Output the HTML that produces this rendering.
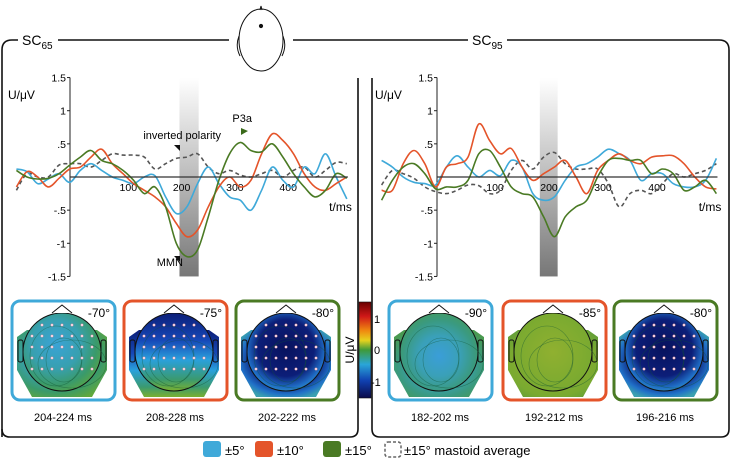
<!DOCTYPE html>
<html><head><meta charset="utf-8"><style>
body{margin:0;background:#fff;width:731px;height:465px;overflow:hidden}
svg{display:block;font-family:"Liberation Sans",sans-serif}
</style></head><body>
<svg id="fig" width="731" height="465" viewBox="0 0 731 465">
<defs>
<linearGradient id="gbar" x1="0" y1="0" x2="0" y2="1"><stop offset="0" stop-color="#fff"/><stop offset="1" stop-color="#777"/></linearGradient>
<linearGradient id="cbar" x1="0" y1="0" x2="0" y2="1">
<stop offset="0" stop-color="#6a0000"/><stop offset="0.15" stop-color="#d01818"/><stop offset="0.3" stop-color="#f08a10"/><stop offset="0.4" stop-color="#e6d21e"/><stop offset="0.5" stop-color="#3f9a3a"/><stop offset="0.65" stop-color="#2aa6d8"/><stop offset="0.82" stop-color="#1040b0"/><stop offset="1" stop-color="#0a0a4a"/></linearGradient>
<radialGradient id="m1" cx="0.42" cy="0.4" r="0.7"><stop offset="0" stop-color="#3aa3d6"/><stop offset="0.45" stop-color="#38a0b0"/><stop offset="0.75" stop-color="#3a9a6a"/><stop offset="1" stop-color="#62a83a"/></radialGradient>
<linearGradient id="m2" x1="0" y1="0" x2="0" y2="1"><stop offset="0" stop-color="#0c1e78"/><stop offset="0.35" stop-color="#1648b8"/><stop offset="0.6" stop-color="#2aa0dc"/><stop offset="0.85" stop-color="#3a9a70"/><stop offset="1" stop-color="#7ab030"/></linearGradient>
<radialGradient id="m3" cx="0.5" cy="0.45" r="0.6"><stop offset="0" stop-color="#08125e"/><stop offset="0.6" stop-color="#0c1e78"/><stop offset="0.85" stop-color="#2070c8"/><stop offset="1" stop-color="#3aa0b0"/></radialGradient>
<radialGradient id="m4" cx="0.5" cy="0.55" r="0.65"><stop offset="0" stop-color="#3a9ed8"/><stop offset="0.4" stop-color="#3aa0b8"/><stop offset="0.7" stop-color="#3a9a80"/><stop offset="1" stop-color="#4a9a50"/></radialGradient>
<radialGradient id="m5" cx="0.5" cy="0.5" r="0.7"><stop offset="0" stop-color="#90b030"/><stop offset="0.7" stop-color="#7aaa30"/><stop offset="1" stop-color="#5a9a3a"/></radialGradient>
</defs>

<g fill="none" stroke="#111" stroke-width="1.6">
<path d="M2,437 L2,50 Q2,40 12,40 L18,40 M58,40 L229,40"/>
<path d="M358,78 L358,429 Q358,437 350,437 L10,437 Q2,437 2,429"/>
<path d="M293,40 L468,40 M507,40 L719,40 Q729,40 729,50 L729,429 Q729,437 721,437 L380,437 Q372,437 372,429 L372,78"/>
</g>
<text x="22" y="45" font-size="14">SC<tspan font-size="10" dy="4">65</tspan></text>
<text x="472" y="45" font-size="14">SC<tspan font-size="10" dy="4">95</tspan></text>
<g fill="none" stroke="#111" stroke-width="1">
<path d="M239,36 Q235,46 240,56 M283,36 Q287,46 282,56"/>
<ellipse cx="261" cy="40" rx="22" ry="31" fill="#fff"/>
<path d="M260,10 L261,6 L262,10"/>
<circle cx="261" cy="26" r="1.6" fill="#111"/>
</g>

<g id="chartL"></g>
<g id="chartR"></g>
<g id="maps"></g>

<rect x="359" y="302" width="12" height="96" fill="url(#cbar)" stroke="#111" stroke-width="0.6"/>
<g font-size="11">
<text x="374" y="323">1</text><text x="374" y="354">0</text><text x="371" y="386">-1</text>
</g>
<text transform="translate(354,350) rotate(-90)" font-size="12" text-anchor="middle">U/μV</text>

<g font-size="13">
<g><rect x="203" y="441" width="18" height="16" rx="3" fill="#3fa9d9"/><text x="225" y="455">±5°</text></g>
<g><rect x="255" y="441" width="18" height="16" rx="3" fill="#e4542a"/><text x="277" y="455">±10°</text></g>
<g><rect x="323" y="441" width="18" height="16" rx="3" fill="#4a7a24"/><text x="345" y="455">±15°</text></g>
<g><rect x="385" y="442" width="16" height="15" rx="3" fill="none" stroke="#666" stroke-width="1.5" stroke-dasharray="3,2"/><text x="404" y="455">±15° mastoid average</text></g>
</g>
</svg>
<script>
const times=[-110,-90,-70,-50,-30,-10,10,30,50,70,90,110,130,150,170,190,210,230,250,270,290,310,330,350,370,390,410,430,450,470,490,510];
const yTicks=[1.5,1,0.5,-0.5,-1,-1.5];
const yTickLabels=["1.5","1",".5","-.5","-1","-1.5"];
const xTicks=[100,200,300,400];
const L_blue=[0.12,0.08,-0.1,-0.03,0.05,-0.08,0.1,0.2,0.1,0.0,-0.05,-0.1,0.0,0.02,-0.3,-0.55,-0.45,-0.1,0.15,-0.1,-0.3,-0.35,-0.5,-0.2,0.15,-0.05,-0.15,0.15,0.05,0.35,0.0,-0.33];
const L_orange=[-0.15,0.08,0.0,-0.15,-0.02,0.12,0.15,0.3,0.42,0.2,0.05,-0.1,-0.2,-0.3,-0.45,-0.7,-0.9,-0.8,-0.45,-0.15,0.0,-0.15,-0.05,0.35,0.65,0.55,0.35,0.05,-0.15,-0.2,-0.1,0.0];
const L_green=[0.1,0.0,-0.03,-0.02,0.05,0.18,0.3,0.4,0.25,0.2,0.1,-0.05,-0.25,-0.15,-0.45,-1.0,-1.2,-1.1,-0.6,-0.05,0.35,0.52,0.4,0.38,0.5,0.3,0.05,-0.15,-0.3,-0.2,0.05,-0.02];
const L_mastoid=[-0.2,0.05,0.0,0.0,0.18,0.2,0.2,0.15,0.25,0.35,0.33,0.33,0.3,0.12,0.2,0.28,0.3,0.35,0.15,0.05,0.1,0.03,0.0,0.05,0.1,0.0,0.1,0.15,0.0,0.1,0.22,0.2];
const R_blue=[0.25,0.15,0.0,-0.08,-0.1,-0.12,0.15,0.32,0.15,0.0,0.1,0.02,0.25,0.15,-0.25,-0.35,-0.3,-0.05,0.15,0.2,0.3,0.42,0.35,0.25,-0.05,0.05,0.05,-0.1,-0.15,-0.15,-0.05,0.28];
const R_orange=[-0.2,-0.2,0.2,0.4,0.2,-0.15,0.15,0.2,0.3,0.8,0.55,0.35,0.43,0.15,-0.05,0.05,0.15,0.25,0.0,-0.25,0.1,0.25,0.35,0.25,0.2,0.3,0.32,0.32,0.2,0.0,-0.15,-0.18];
const R_green=[-0.35,-0.05,0.15,0.2,0.05,-0.18,-0.15,-0.15,-0.05,0.35,0.4,0.15,-0.15,-0.25,-0.3,-0.6,-0.9,-0.6,-0.45,-0.35,0.0,0.25,0.28,0.25,0.25,0.05,0.12,0.05,-0.2,-0.15,-0.05,-0.25];
const R_mastoid=[-0.12,0.1,0.05,-0.02,-0.15,-0.22,-0.25,-0.2,-0.12,-0.13,-0.25,-0.2,0.1,0.25,0.12,0.3,0.37,0.2,0.12,0.12,0.12,-0.1,-0.45,-0.25,-0.2,-0.25,-0.1,0.05,0.0,0.05,0.1,0.2];
const NS='http://www.w3.org/2000/svg';
function mk(tag,attrs,parent){const e=document.createElementNS(NS,tag);for(const k in attrs)e.setAttribute(k,attrs[k]);parent.appendChild(e);return e;}
function smooth(pts){let d='M'+pts[0][0].toFixed(1)+','+pts[0][1].toFixed(1);for(let i=0;i<pts.length-1;i++){const p0=pts[i-1]||pts[i],p1=pts[i],p2=pts[i+1],p3=pts[i+2]||p2;const c1=[p1[0]+(p2[0]-p0[0])/6,p1[1]+(p2[1]-p0[1])/6],c2=[p2[0]-(p3[0]-p1[0])/6,p2[1]-(p3[1]-p1[1])/6];d+=` C${c1[0].toFixed(1)},${c1[1].toFixed(1)} ${c2[0].toFixed(1)},${c2[1].toFixed(1)} ${p2[0].toFixed(1)},${p2[1].toFixed(1)}`;}return d;}
function chart(g,x0,pxPerMs,axisX,bar,series){
  const X=t=>x0+t*pxPerMs, Y=v=>177-v*66.3;
  const b=mk('rect',{x:X(bar[0]),y:Y(1.5),width:X(bar[1])-X(bar[0]),height:Y(-1.5)-Y(1.5),fill:'url(#gbar)'},g);
  
  
  const ya=mk('line',{x1:axisX,x2:axisX,y1:Y(1.5),y2:Y(-1.5),stroke:'#222','stroke-width':1},g);
  
  
  yTicks.forEach((v,i)=>{mk('line',{x1:axisX-3,x2:axisX,y1:Y(v),y2:Y(v),stroke:'#222'},g);
    const t=mk('text',{x:axisX-4,y:Y(v)+4,'font-size':10.5,'text-anchor':'end'},g);t.textContent=yTickLabels[i];
    
    });
  xTicks.forEach(v=>{const t=mk('text',{x:X(v),y:Y(0)+14,'font-size':10.5,'text-anchor':'middle'},g);t.textContent=v;
    
    });
  const yl=mk('text',{x:axisX-62,y:Y(1.24)+4,'font-size':12},g);yl.textContent='U/μV';
  
  
  const xl=mk('text',{x:X(510)+5,y:Y(-0.45)+4,'font-size':12,'text-anchor':'end'},g);xl.textContent='t/ms';
  
  
  const styles=[['#3fa9d9',''],['#e4542a',''],['#4a7a24',''],['#555','4,3']];
  const names=['line-5deg','line-10deg','line-15deg','line-mastoid'];
  [3,0,1,2].forEach(i=>{const s=series[i];const p=mk('path',{d:smooth(times.map((t,j)=>[X(t),Y(s[j])])),fill:'none',stroke:styles[i][0],'stroke-width':1.6},g);
    if(styles[i][1])p.setAttribute('stroke-dasharray',styles[i][1]);
    
    });
  const xa=mk('line',{x1:axisX,x2:X(512),y1:Y(0),y2:Y(0),stroke:'#333','stroke-width':1.2},g);
  
  
}
const gl=document.getElementById('chartL');
chart(gl,75,0.533,70,[196,232],[L_blue,L_orange,L_green,L_mastoid]);
chart(document.getElementById('chartR'),441,0.54,437,[183,216],[R_blue,R_orange,R_green,R_mastoid]);
[['inverted polarity',221,139,'ann-inverted-polarity'],['P3a',252,122,'ann-p3a'],['MMN',183,266,'ann-mmn']].forEach(a=>{const t=mk('text',{x:a[1],y:a[2],'font-size':11,'text-anchor':'end'},gl);t.textContent=a[0];
  
  });
mk('path',{d:'M174,145 L180,145 L180,151 Z',fill:'#111'},gl);
mk('path',{d:'M174,256 L180,256 L180,262 Z',fill:'#111'},gl);
mk('path',{d:'M241,128 L248,131 L241,135 Z',fill:'#3a6a1a'},gl);
const maps=document.getElementById('maps');
const mapDefs=[[12,'#3fa9d9','m1','-70°','204-224 ms',1],[124,'#e4542a','m2','-75°','208-228 ms',1],[236,'#4a7a24','m3','-80°','202-222 ms',1],
[389,'#3fa9d9','m4','-90°','182-202 ms',0],[503,'#e4542a','m5','-85°','192-212 ms',0],[614,'#4a7a24','m3','-80°','196-216 ms',1]];
mapDefs.forEach((m,k)=>{const x=m[0];const g=mk('g',{},maps);
  
  
  const cx=x+50,cy=352;
  mk('path',{d:`M${x+5},${cy-15} L${x+15},${cy-22} L${x+85},${cy-22} L${x+95},${cy-15} L${x+95},${cy+18} L${x+80},${cy+45} L${x+20},${cy+45} L${x+5},${cy+18} Z`,fill:`url(#${m[2]})`},g);
  mk('circle',{cx,cy,r:39,fill:`url(#${m[2]})`,stroke:'#111','stroke-width':1},g);
  mk('path',{d:`M${cx-10},${cy-39} L${cx},${cy-47} L${cx+10},${cy-39}`,fill:'#fff',stroke:'#111'},g);
  mk('rect',{x:cx-44,y:cy-12,width:5,height:22,rx:2,fill:'none',stroke:'#111'},g);
  mk('rect',{x:cx+39,y:cy-12,width:5,height:22,rx:2,fill:'none',stroke:'#111'},g);
  [[22,26],[14,18],[30,20]].forEach((r,i)=>mk('ellipse',{cx:cx-6+i*8,cy:cy+4+i*4,rx:r[0]+4,ry:r[1]+4,fill:'none',stroke:'#153','stroke-width':0.6,opacity:0.5},g));
  if(m[5]){for(let r=0;r<5;r++)for(let c=0;c<7;c++){const ex=cx-30+c*10,ey=cy-27+r*11;if(Math.hypot(ex-cx,ey-cy)<37)mk('circle',{cx:ex,cy:ey,r:1.3,fill:'#fde',stroke:'#c88','stroke-width':0.4},g);}}
  mk('rect',{x:x,y:301,width:103,height:99,rx:8,fill:'none',stroke:m[1],'stroke-width':3},g);
  const a=mk('text',{x:x+98,y:317,'font-size':12,'text-anchor':'end'},g);a.textContent=m[3];
  
  
  const t=mk('text',{x:x+51,y:421,'font-size':11,'text-anchor':'middle'},g);t.textContent=m[4];
  
  
});
</script>
</body></html>
